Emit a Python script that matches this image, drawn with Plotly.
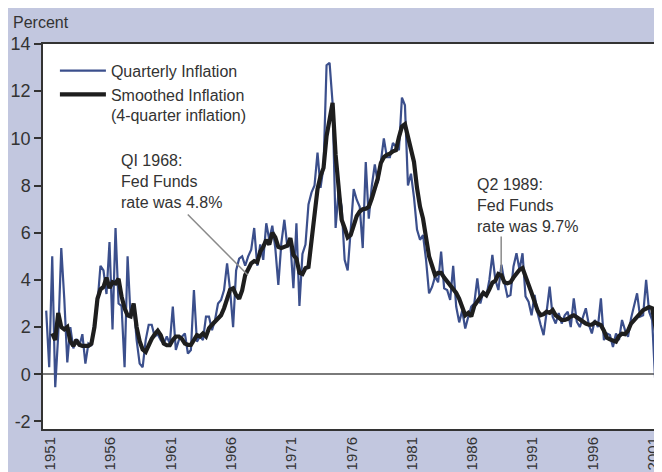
import plotly.graph_objects as go

# quarterly inflation, annualised, first value = 1951 Q1
first_year = 1951
quarterly = [
    2.7, 0.3, 5.0, -0.55, 1.7, 5.35, 3.2, 0.5, 2.0, 1.1,
    1.5, 1.2, 1.7, 0.45, 1.3, 1.2, 2.2, 3.0, 4.6, 4.4,
    3.4, 5.6, 1.9, 6.2, 3.0, 2.9, 0.3, 5.0, 2.4, 3.0,
    1.45, 0.45, 0.3, 1.45, 2.1, 2.1, 1.6, 1.7, 1.45, 1.3,
    1.6, 1.3, 2.87, 1.03, 1.45, 1.6, 1.73, 0.88, 1.03, 3.57,
    1.38, 1.6, 1.45, 2.44, 2.44, 1.87, 2.3, 3.0, 3.15, 3.57,
    4.7, 3.57, 2.0, 4.4, 4.9, 5.0, 4.6, 5.0, 5.28, 6.2,
    4.6, 5.5, 4.85, 6.4, 5.7, 6.3, 5.35, 3.79, 5.56, 6.55,
    5.4, 5.55, 3.65, 6.4, 2.9, 5.1, 5.5, 7.2, 7.7, 8.0,
    9.4, 7.9, 8.8, 13.1, 13.2, 11.5, 6.2, 7.8, 7.1, 4.85,
    4.4, 6.1, 7.85, 7.4, 7.1, 5.35, 9.0, 6.6, 7.97, 8.9,
    8.1, 9.0, 10.0, 9.2, 9.2, 9.8, 9.67, 9.5, 11.73, 11.4,
    8.0, 8.5, 7.5, 6.13, 5.7, 5.9, 4.85, 3.43,
    3.7, 4.14, 3.9, 5.2, 3.64, 3.57, 3.15, 4.6, 2.87, 2.2,
    2.7, 1.94, 2.44, 2.87, 3.0, 4.07, 3.0, 3.5, 3.3, 4.0,
    5.06, 4.0, 3.57, 4.64, 3.9, 3.29, 3.36, 4.57, 5.13, 4.43,
    5.13, 3.3, 3.08, 2.5, 3.36, 2.6,
    2.1, 1.66, 2.65, 3.72, 2.44, 2.15, 2.6, 2.15, 2.5, 2.65,
    2.0, 3.22, 2.23, 2.0, 2.4, 2.8, 2.1, 1.73, 2.3, 2.0,
    3.22, 1.45, 1.73, 1.66, 1.16, 1.73, 1.45, 2.3, 1.87, 1.59,
    2.37, 2.87, 3.43, 2.44, 2.5, 4.0, 2.65, 2.3, -0.25, 1.59,
    1.45, 1.2,
]

# 4-quarter inflation, starts at the third quarter of the series
smooth_offset = 2
smoothed = [
    1.73, 1.45, 2.6, 2.0, 1.9, 2.0, 1.4, 1.2, 1.45, 1.25,
    1.2, 1.2, 1.2, 1.3, 2.0, 3.2, 3.6, 3.7, 4.1, 3.65,
    3.9, 3.85, 4.05, 3.3, 2.8, 2.5, 2.45, 3.0, 2.0, 1.4,
    1.05, 0.95, 1.25, 1.5, 1.7, 1.85, 1.66, 1.3, 1.23, 1.23,
    1.45, 1.6, 1.6, 1.5, 1.3, 1.25, 1.25, 1.5, 1.66, 1.6,
    1.73, 1.6, 1.95, 2.1, 2.25, 2.35, 2.5, 2.8, 3.25, 3.58,
    3.64, 3.36, 3.2, 3.55, 4.2, 4.45, 4.7, 4.8, 4.75, 5.2,
    5.4, 5.7, 5.5, 6.0, 5.8, 5.4, 5.35, 5.4, 5.45, 5.77,
    5.06, 4.9, 4.3, 4.25, 4.5, 4.55, 5.6, 6.77, 7.85, 8.4,
    8.75, 10.1, 10.8, 11.5, 9.3, 7.8, 6.55, 6.2, 5.8, 5.9,
    6.25, 6.7, 6.9, 7.0, 7.02, 7.1, 7.45, 7.9, 8.3, 8.95,
    9.2, 9.3, 9.35, 9.45, 9.5, 10.05, 10.5, 10.6, 10.0, 9.6,
    9.0, 7.9, 7.1, 6.6, 5.85, 5.0, 4.6, 4.2, 4.3, 4.3,
    4.1, 3.95, 3.75, 3.6, 3.45, 3.2, 2.9, 2.5, 2.6, 2.45,
    2.9, 3.13, 3.27, 3.45, 3.35, 3.6, 3.88, 3.97, 4.25, 4.2,
    3.9, 3.86, 3.9, 4.1, 4.28, 4.43, 4.5, 4.2, 3.8, 3.45,
    3.08, 2.7, 2.5, 2.55, 2.65, 2.6, 2.72, 2.5, 2.4, 2.3,
    2.3, 2.35, 2.45, 2.5, 2.42, 2.32, 2.25, 2.15, 2.1, 2.1,
    2.2, 2.15, 2.08, 1.85, 1.55, 1.48, 1.45, 1.38, 1.62, 1.72,
    1.7, 1.85, 2.15, 2.3, 2.48, 2.6, 2.72, 2.78, 2.85, 2.8,
    1.9, 1.3, 1.0, 0.9,
]

tick_years = list(range(1951, 2002, 5))
y_ticks = [-2, 0, 2, 4, 6, 8, 10, 12, 14]
y_ticktext = ["-2", "0", "2", "4", "6", "8", "10", "12", "14"]

FONT = "Liberation Sans, Arial, sans-serif"
TEXT = "#333333"
BLUE = "#3b4f8c"
BLACK = "#1e1e1e"

quarters = [first_year + i / 4 for i in range(len(quarterly))]

fig = go.Figure()
fig.add_trace(go.Scatter(
    x=quarters, y=quarterly, mode="lines", name="Quarterly Inflation",
    line=dict(color=BLUE, width=2.2),
))
fig.add_trace(go.Scatter(
    x=quarters[smooth_offset:smooth_offset + len(smoothed)], y=smoothed,
    mode="lines", name="Smoothed Inflation<br>(4-quarter inflation)",
    line=dict(color=BLACK, width=4.2),
))

# callouts
fig.add_annotation(x=1957.0, y=8.17, xref="x", yref="y", showarrow=False,
                   text="QI 1968:<br>Fed Funds<br>rate was 4.8%",
                   xanchor="left", yanchor="middle", align="left",
                   font=dict(family=FONT, size=16, color=TEXT))
fig.add_shape(type="line", xref="x", yref="y",
              x0=1962.74, y0=6.77, x1=1967.72, y1=4.21,
              line=dict(color="#8a8a8a", width=1.5))
fig.add_annotation(x=1986.6, y=7.15, xref="x", yref="y", showarrow=False,
                   text="Q2 1989:<br>Fed Funds<br>rate was 9.7%",
                   xanchor="left", yanchor="middle", align="left",
                   font=dict(family=FONT, size=16, color=TEXT))
fig.add_shape(type="line", xref="x", yref="y",
              x0=1988.73, y0=5.84, x1=1988.73, y1=4.28,
              line=dict(color="#8a8a8a", width=1.5))

fig.add_annotation(x=-0.051, y=1.055, xref="paper", yref="paper", showarrow=False,
                   text="Percent", xanchor="left", yanchor="middle",
                   font=dict(family=FONT, size=16, color=TEXT))

# the page body adds an 8px offset, margins are set to compensate
fig.update_layout(
    width=662, height=472,
    margin=dict(l=35, r=0, t=36, b=51),
    paper_bgcolor="#c2c7df",
    plot_bgcolor="white",
    font=dict(family=FONT, size=16, color=TEXT),
    showlegend=True,
    legend=dict(x=0.019, y=0.975, xanchor="left", yanchor="top",
                bgcolor="rgba(0,0,0,0)", font=dict(size=16, color=TEXT),
                itemwidth=46, valign="top", tracegroupgap=0),
)
fig.update_xaxes(
    range=[1950.735, 2002.73],
    tickvals=[y + 1 / 3 for y in tick_years],
    ticktext=[str(y) for y in tick_years],
    tickangle=-90, ticks="", tickfont=dict(size=15, color=TEXT),
    showgrid=False, zeroline=False,
    showline=True, linecolor="#333333", linewidth=2, mirror=True,
)
fig.update_yaxes(
    range=[-2.32, 14],
    tickvals=y_ticks, ticktext=y_ticktext,
    ticks="outside", ticklen=7, tickwidth=1.5, tickcolor="#333333",
    tickfont=dict(size=18, color=TEXT),
    showgrid=False,
    zeroline=True, zerolinecolor="#7a7a7a", zerolinewidth=1.5,
    showline=True, linecolor="#333333", linewidth=1.5,
)

fig.write_html("out.html")
